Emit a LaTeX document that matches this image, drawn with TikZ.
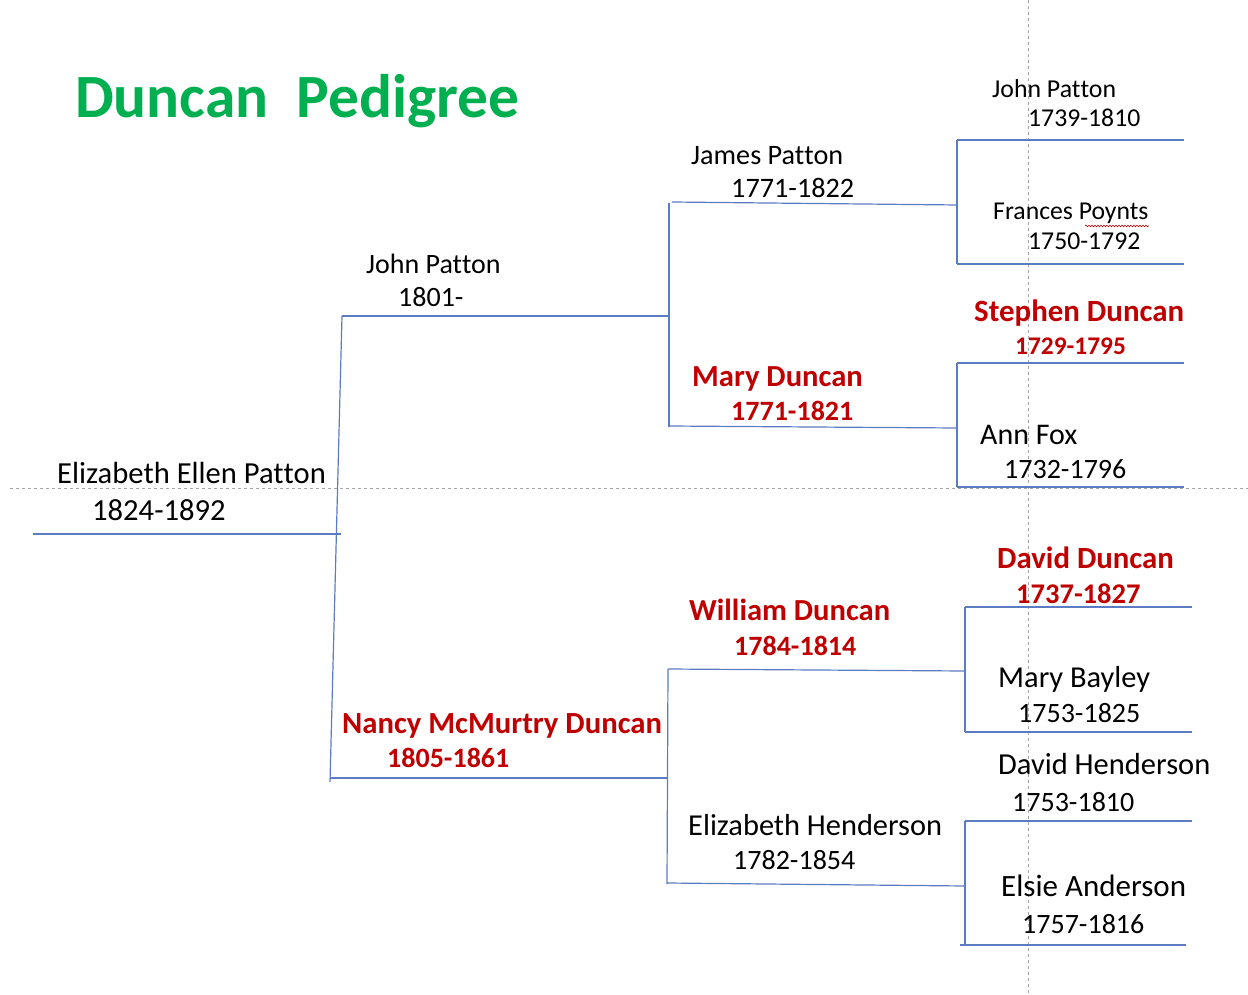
\documentclass[tikz,border=0pt]{standalone}
\usepackage{fontspec}
\setmainfont{Carlito}[Ligatures=NoCommon]
\usetikzlibrary{decorations.pathmorphing}
\definecolor{dred}{HTML}{C00000}
\definecolor{dgreen}{HTML}{00B050}
\definecolor{lineblue}{HTML}{5B7CC2}
\newcommand{\Ptn}{Pat\kern0pt ton}
\tikzset{
  nm/.style={anchor=base west, inner sep=0pt, text=black, font=\fontsize{#1}{#1}\selectfont},
  rd/.style={anchor=base west, inner sep=0pt, text=dred, font=\fontsize{#1}{#1}\selectfont\bfseries},
  link/.style={draw=lineblue, line width=1.2pt},
  guide/.style={draw=gray!70, line width=0.8pt, dash pattern=on 3pt off 3pt}
}
\begin{document}
\begin{tikzpicture}[x=1pt,y=-1pt]
\useasboundingbox (0,0) rectangle (1248,995);
\fill[white] (0,0) rectangle (1248,995);
% guides
\coordinate (gv1) at (1028,0); \coordinate (gv2) at (1028,995);
\coordinate (gh1) at (10,488); \coordinate (gh2) at (1248,488);
\draw[guide] (gv1) -- (gv2);
\draw[guide] (gh1) -- (gh2);
% title
\node[anchor=base west, inner sep=0pt, text=dgreen, font=\fontsize{61.5}{61.5}\selectfont\bfseries] (title) at (75,118) {Duncan\ \ Pedigree};
% coordinates
\coordinate (r0a) at (33,534); \coordinate (r0b) at (341,534);
\coordinate (g1t) at (342,316); \coordinate (g1b) at (330,782);
\coordinate (g1te) at (668,316);
\coordinate (g1bs) at (330,778); \coordinate (g1be) at (668,778);
\coordinate (g2at) at (669,203); \coordinate (g2ab) at (669,427);
\coordinate (jps) at (672,202); \coordinate (jpe) at (958,205);
\coordinate (mds) at (669,426); \coordinate (mde) at (957,428);
\coordinate (g2bt) at (668,669); \coordinate (g2bb) at (667,884);
\coordinate (wds) at (668,669); \coordinate (wde) at (965,671);
\coordinate (ehs) at (667,883); \coordinate (ehe) at (965,886);
\coordinate (a1) at (957,140); \coordinate (a2) at (957,264);
\coordinate (a1e) at (1184,140); \coordinate (a2e) at (1184,264);
\coordinate (b1) at (957,363); \coordinate (b2) at (957,487);
\coordinate (b1e) at (1184,363); \coordinate (b2e) at (1184,487);
\coordinate (c1) at (965,607); \coordinate (c2) at (965,732);
\coordinate (c1e) at (1192,607); \coordinate (c2e) at (1192,732);
\coordinate (d1) at (965,821); \coordinate (d2) at (965,945);
\coordinate (d1e) at (1192,821); \coordinate (d2s) at (960,945); \coordinate (d2e) at (1186,945);
% lines
\draw[link] (r0a) -- (r0b);
\draw[link] (g1t) -- (g1b);
\draw[link] (g1t) -- (g1te);
\draw[link] (g1bs) -- (g1be);
\draw[link] (g2at) -- (g2ab);
\draw[link] (jps) -- (jpe);
\draw[link] (mds) -- (mde);
\draw[link] (g2bt) -- (g2bb);
\draw[link] (wds) -- (wde);
\draw[link] (ehs) -- (ehe);
\draw[link] (a1) -- (a2); \draw[link] (a1) -- (a1e); \draw[link] (a2) -- (a2e);
\draw[link] (b1) -- (b2); \draw[link] (b1) -- (b1e); \draw[link] (b2) -- (b2e);
\draw[link] (c1) -- (c2); \draw[link] (c1) -- (c1e); \draw[link] (c2) -- (c2e);
\draw[link] (d1) -- (d2); \draw[link] (d1) -- (d1e); \draw[link] (d2s) -- (d2e);
% generation 0
\node[nm=30.6] (eep) at (57,483) {Elizabeth Ellen \Ptn};
\node[nm=30.6] (eepy) at (92,520) {1824-1892};
% generation 1
\node[nm=28] (jp1) at (366,273) {John \Ptn};
\node[nm=28] (jp1y) at (398,306) {1801-};
\node[rd=30.7] (nmd) at (342,733) {Nancy McMurtry Duncan};
\node[rd=28] (nmdy) at (387,767) {1805-1861};
% generation 2
\node[nm=28.2] (jap) at (691,165) {James \Ptn};
\node[nm=28.2] (japy) at (731,198) {1771-1822};
\node[rd=30.6] (mdu) at (692,386) {Mary Duncan};
\node[rd=28] (mduy) at (731,420) {1771-1821};
\node[rd=30.6] (wdu) at (689,620) {William Duncan};
\node[rd=28] (wduy) at (734,655) {1784-1814};
\node[nm=30.4] (ehn) at (688,835) {Elizabeth Henderson};
\node[nm=28] (ehny) at (733,869) {1782-1854};
% generation 3
\node[nm=25.8] (jp3) at (992,98) {John \Ptn};
\node[nm=25.7] (jp3y) at (1028,127) {1739-1810};
\node[nm=25.7] (fp) at (993,220) {Frances Poynts};
\node[nm=25.7] (fpy) at (1028,250) {1750-1792};
\draw[dred, line width=0.6pt, decorate, decoration={snake, amplitude=0.8pt, segment length=3pt}] (1085,226) -- (1149,226);
\node[rd=30.9] (sd) at (974,321) {Stephen Duncan};
\node[rd=25.4] (sdy) at (1015,354) {1729-1795};
\node[nm=30] (af) at (980,444) {Ann Fox};
\node[nm=28] (afy) at (1004,478) {1732-1796};
\node[rd=30.8] (dd) at (997,568) {David Duncan};
\node[rd=28.5] (ddy) at (1016,603) {1737-1827};
\node[nm=30.4] (mb) at (998,687) {Mary Bayley};
\node[nm=28] (mby) at (1018,722) {1753-1825};
\node[nm=30.5] (dh) at (998,774) {David Henderson};
\node[nm=28] (dhy) at (1012,811) {1753-1810};
\node[nm=31] (ea) at (1001,896) {Elsie Anderson};
\node[nm=28] (eay) at (1022,933) {1757-1816};
\end{tikzpicture}
\end{document}
